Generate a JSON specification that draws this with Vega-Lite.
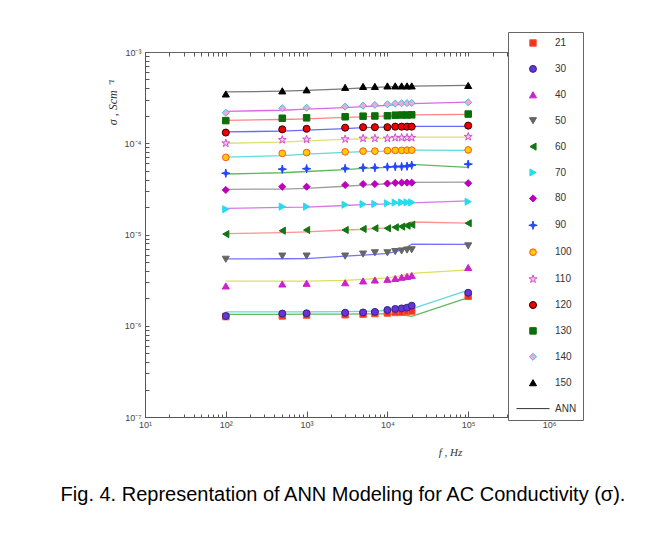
{
  "$schema": "https://vega.github.io/schema/vega-lite/v6.json",
  "autosize": {"type": "none"},
  "padding": {"left": 145, "top": 52, "right": 119, "bottom": 116},
  "width": 404,
  "height": 365,
  "background": "white",
  "config": {
    "view": {"stroke": "#666", "strokeWidth": 1},
    "axis": {"domainColor": "#555", "tickColor": "#555", "labelColor": "#444", "labelFontSize": 9, "labelFont": "Liberation Sans", "grid": false, "labelOverlap": false, "labelFlush": false},
    "legend": {"orient": "none", "legendX": 363, "legendY": -20, "padding": 6, "rowPadding": 13.9, "labelFontSize": 10, "labelFont": "Liberation Sans", "labelColor": "#333", "strokeColor": "#666", "fillColor": "white", "labelOffset": 16, "symbolOffset": 13, "symbolStrokeWidth": 1}
  },
  "title": {"text": "Fig. 4. Representation of ANN Modeling for AC Conductivity (σ).", "orient": "bottom", "anchor": "middle", "frame": "group", "fontSize": 20, "font": "Liberation Sans", "fontWeight": "normal", "color": "#000", "offset": 28, "dx": -4},
  "data": {"values": [
    {"T":"21","f":100,"sigma":1.26e-6,"ann":1.33e-6},{"T":"21","f":500,"sigma":1.28e-6,"ann":1.33e-6},{"T":"21","f":1000,"sigma":1.31e-6,"ann":1.34e-6},{"T":"21","f":3000,"sigma":1.32e-6,"ann":1.34e-6},{"T":"21","f":5000,"sigma":1.34e-6,"ann":1.35e-6},{"T":"21","f":7000,"sigma":1.36e-6,"ann":1.35e-6},{"T":"21","f":10000,"sigma":1.38e-6,"ann":1.35e-6},{"T":"21","f":12500,"sigma":1.4e-6,"ann":1.33e-6},{"T":"21","f":15000,"sigma":1.41e-6,"ann":1.31e-6},{"T":"21","f":17500,"sigma":1.43e-6,"ann":1.29e-6},{"T":"21","f":20000,"sigma":1.45e-6,"ann":1.27e-6},{"T":"21","f":100000,"sigma":2.1e-6,"ann":2.03e-6},
    {"T":"30","f":100,"sigma":1.28e-6,"ann":1.42e-6},{"T":"30","f":500,"sigma":1.36e-6,"ann":1.42e-6},{"T":"30","f":1000,"sigma":1.37e-6,"ann":1.42e-6},{"T":"30","f":3000,"sigma":1.39e-6,"ann":1.43e-6},{"T":"30","f":5000,"sigma":1.4e-6,"ann":1.44e-6},{"T":"30","f":7000,"sigma":1.42e-6,"ann":1.45e-6},{"T":"30","f":10000,"sigma":1.49e-6,"ann":1.47e-6},{"T":"30","f":12500,"sigma":1.53e-6,"ann":1.48e-6},{"T":"30","f":15000,"sigma":1.55e-6,"ann":1.5e-6},{"T":"30","f":17500,"sigma":1.58e-6,"ann":1.51e-6},{"T":"30","f":20000,"sigma":1.66e-6,"ann":1.53e-6},{"T":"30","f":100000,"sigma":2.3e-6,"ann":2.45e-6},
    {"T":"40","f":100,"sigma":2.73e-6,"ann":3.08e-6},{"T":"40","f":500,"sigma":2.87e-6,"ann":3.08e-6},{"T":"40","f":1000,"sigma":2.92e-6,"ann":3.09e-6},{"T":"40","f":3000,"sigma":2.96e-6,"ann":3.15e-6},{"T":"40","f":5000,"sigma":3.1e-6,"ann":3.22e-6},{"T":"40","f":7000,"sigma":3.17e-6,"ann":3.28e-6},{"T":"40","f":10000,"sigma":3.23e-6,"ann":3.35e-6},{"T":"40","f":12500,"sigma":3.3e-6,"ann":3.45e-6},{"T":"40","f":15000,"sigma":3.4e-6,"ann":3.55e-6},{"T":"40","f":17500,"sigma":3.48e-6,"ann":3.65e-6},{"T":"40","f":20000,"sigma":3.55e-6,"ann":3.75e-6},{"T":"40","f":100000,"sigma":4.35e-6,"ann":4.1e-6},
    {"T":"50","f":100,"sigma":5.35e-6,"ann":5.4e-6},{"T":"50","f":500,"sigma":5.8e-6,"ann":5.42e-6},{"T":"50","f":1000,"sigma":5.8e-6,"ann":5.45e-6},{"T":"50","f":3000,"sigma":5.8e-6,"ann":5.8e-6},{"T":"50","f":5000,"sigma":6.1e-6,"ann":5.95e-6},{"T":"50","f":7000,"sigma":6.3e-6,"ann":6.05e-6},{"T":"50","f":10000,"sigma":6.3e-6,"ann":6.2e-6},{"T":"50","f":12500,"sigma":6.5e-6,"ann":6.5e-6},{"T":"50","f":15000,"sigma":6.6e-6,"ann":6.8e-6},{"T":"50","f":17500,"sigma":6.75e-6,"ann":7.3e-6},{"T":"50","f":20000,"sigma":6.8e-6,"ann":7.85e-6},{"T":"50","f":100000,"sigma":7.5e-6,"ann":7.8e-6},
    {"T":"60","f":100,"sigma":1.01e-5,"ann":1.02e-5},{"T":"60","f":500,"sigma":1.1e-5,"ann":1.05e-5},{"T":"60","f":1000,"sigma":1.12e-5,"ann":1.07e-5},{"T":"60","f":3000,"sigma":1.12e-5,"ann":1.12e-5},{"T":"60","f":5000,"sigma":1.15e-5,"ann":1.14e-5},{"T":"60","f":7000,"sigma":1.17e-5,"ann":1.16e-5},{"T":"60","f":10000,"sigma":1.17e-5,"ann":1.18e-5},{"T":"60","f":12500,"sigma":1.2e-5,"ann":1.22e-5},{"T":"60","f":15000,"sigma":1.22e-5,"ann":1.26e-5},{"T":"60","f":17500,"sigma":1.25e-5,"ann":1.32e-5},{"T":"60","f":20000,"sigma":1.28e-5,"ann":1.37e-5},{"T":"60","f":100000,"sigma":1.33e-5,"ann":1.33e-5},
    {"T":"70","f":100,"sigma":1.89e-5,"ann":1.93e-5},{"T":"70","f":500,"sigma":2.02e-5,"ann":1.98e-5},{"T":"70","f":1000,"sigma":2.02e-5,"ann":2.0e-5},{"T":"70","f":3000,"sigma":2.12e-5,"ann":2.08e-5},{"T":"70","f":5000,"sigma":2.15e-5,"ann":2.12e-5},{"T":"70","f":7000,"sigma":2.16e-5,"ann":2.14e-5},{"T":"70","f":10000,"sigma":2.2e-5,"ann":2.17e-5},{"T":"70","f":12500,"sigma":2.24e-5,"ann":2.19e-5},{"T":"70","f":15000,"sigma":2.25e-5,"ann":2.2e-5},{"T":"70","f":17500,"sigma":2.25e-5,"ann":2.21e-5},{"T":"70","f":20000,"sigma":2.25e-5,"ann":2.22e-5},{"T":"70","f":100000,"sigma":2.29e-5,"ann":2.34e-5},
    {"T":"80","f":100,"sigma":3.08e-5,"ann":3.12e-5},{"T":"80","f":500,"sigma":3.34e-5,"ann":3.15e-5},{"T":"80","f":1000,"sigma":3.34e-5,"ann":3.2e-5},{"T":"80","f":3000,"sigma":3.49e-5,"ann":3.38e-5},{"T":"80","f":5000,"sigma":3.57e-5,"ann":3.48e-5},{"T":"80","f":7000,"sigma":3.57e-5,"ann":3.53e-5},{"T":"80","f":10000,"sigma":3.62e-5,"ann":3.6e-5},{"T":"80","f":12500,"sigma":3.68e-5,"ann":3.65e-5},{"T":"80","f":15000,"sigma":3.7e-5,"ann":3.68e-5},{"T":"80","f":17500,"sigma":3.7e-5,"ann":3.7e-5},{"T":"80","f":20000,"sigma":3.7e-5,"ann":3.72e-5},{"T":"80","f":100000,"sigma":3.65e-5,"ann":3.75e-5},
    {"T":"90","f":100,"sigma":4.69e-5,"ann":4.6e-5},{"T":"90","f":500,"sigma":5.2e-5,"ann":4.75e-5},{"T":"90","f":1000,"sigma":5.26e-5,"ann":4.9e-5},{"T":"90","f":3000,"sigma":5.3e-5,"ann":5.15e-5},{"T":"90","f":5000,"sigma":5.4e-5,"ann":5.3e-5},{"T":"90","f":7000,"sigma":5.4e-5,"ann":5.38e-5},{"T":"90","f":10000,"sigma":5.5e-5,"ann":5.45e-5},{"T":"90","f":12500,"sigma":5.55e-5,"ann":5.55e-5},{"T":"90","f":15000,"sigma":5.55e-5,"ann":5.65e-5},{"T":"90","f":17500,"sigma":5.6e-5,"ann":5.75e-5},{"T":"90","f":20000,"sigma":5.75e-5,"ann":5.88e-5},{"T":"90","f":100000,"sigma":5.9e-5,"ann":5.45e-5},
    {"T":"100","f":100,"sigma":7.0e-5,"ann":7.05e-5},{"T":"100","f":500,"sigma":7.75e-5,"ann":7.3e-5},{"T":"100","f":1000,"sigma":7.9e-5,"ann":7.6e-5},{"T":"100","f":3000,"sigma":8.05e-5,"ann":7.95e-5},{"T":"100","f":5000,"sigma":8.2e-5,"ann":8.1e-5},{"T":"100","f":7000,"sigma":8.2e-5,"ann":8.15e-5},{"T":"100","f":10000,"sigma":8.3e-5,"ann":8.2e-5},{"T":"100","f":12500,"sigma":8.35e-5,"ann":8.3e-5},{"T":"100","f":15000,"sigma":8.35e-5,"ann":8.35e-5},{"T":"100","f":17500,"sigma":8.4e-5,"ann":8.4e-5},{"T":"100","f":20000,"sigma":8.4e-5,"ann":8.42e-5},{"T":"100","f":100000,"sigma":8.45e-5,"ann":8.35e-5},
    {"T":"110","f":100,"sigma":1.0e-4,"ann":1.0e-4},{"T":"110","f":500,"sigma":1.09e-4,"ann":1.03e-4},{"T":"110","f":1000,"sigma":1.1e-4,"ann":1.06e-4},{"T":"110","f":3000,"sigma":1.11e-4,"ann":1.1e-4},{"T":"110","f":5000,"sigma":1.13e-4,"ann":1.12e-4},{"T":"110","f":7000,"sigma":1.13e-4,"ann":1.13e-4},{"T":"110","f":10000,"sigma":1.13e-4,"ann":1.14e-4},{"T":"110","f":12500,"sigma":1.15e-4,"ann":1.15e-4},{"T":"110","f":15000,"sigma":1.15e-4,"ann":1.16e-4},{"T":"110","f":17500,"sigma":1.15e-4,"ann":1.16e-4},{"T":"110","f":20000,"sigma":1.15e-4,"ann":1.17e-4},{"T":"110","f":100000,"sigma":1.18e-4,"ann":1.17e-4},
    {"T":"120","f":100,"sigma":1.31e-4,"ann":1.33e-4},{"T":"120","f":500,"sigma":1.42e-4,"ann":1.36e-4},{"T":"120","f":1000,"sigma":1.44e-4,"ann":1.39e-4},{"T":"120","f":3000,"sigma":1.48e-4,"ann":1.45e-4},{"T":"120","f":5000,"sigma":1.5e-4,"ann":1.48e-4},{"T":"120","f":7000,"sigma":1.5e-4,"ann":1.49e-4},{"T":"120","f":10000,"sigma":1.5e-4,"ann":1.5e-4},{"T":"120","f":12500,"sigma":1.52e-4,"ann":1.51e-4},{"T":"120","f":15000,"sigma":1.52e-4,"ann":1.52e-4},{"T":"120","f":17500,"sigma":1.52e-4,"ann":1.52e-4},{"T":"120","f":20000,"sigma":1.52e-4,"ann":1.53e-4},{"T":"120","f":100000,"sigma":1.56e-4,"ann":1.53e-4},
    {"T":"130","f":100,"sigma":1.77e-4,"ann":1.78e-4},{"T":"130","f":500,"sigma":1.88e-4,"ann":1.82e-4},{"T":"130","f":1000,"sigma":1.9e-4,"ann":1.85e-4},{"T":"130","f":3000,"sigma":1.95e-4,"ann":1.92e-4},{"T":"130","f":5000,"sigma":1.98e-4,"ann":1.95e-4},{"T":"130","f":7000,"sigma":1.99e-4,"ann":1.97e-4},{"T":"130","f":10000,"sigma":2.0e-4,"ann":1.99e-4},{"T":"130","f":12500,"sigma":2.03e-4,"ann":2.01e-4},{"T":"130","f":15000,"sigma":2.04e-4,"ann":2.03e-4},{"T":"130","f":17500,"sigma":2.04e-4,"ann":2.04e-4},{"T":"130","f":20000,"sigma":2.05e-4,"ann":2.05e-4},{"T":"130","f":100000,"sigma":2.09e-4,"ann":2.07e-4},
    {"T":"140","f":100,"sigma":2.16e-4,"ann":2.24e-4},{"T":"140","f":500,"sigma":2.42e-4,"ann":2.3e-4},{"T":"140","f":1000,"sigma":2.45e-4,"ann":2.36e-4},{"T":"140","f":3000,"sigma":2.52e-4,"ann":2.46e-4},{"T":"140","f":5000,"sigma":2.58e-4,"ann":2.52e-4},{"T":"140","f":7000,"sigma":2.63e-4,"ann":2.56e-4},{"T":"140","f":10000,"sigma":2.67e-4,"ann":2.6e-4},{"T":"140","f":12500,"sigma":2.72e-4,"ann":2.64e-4},{"T":"140","f":15000,"sigma":2.74e-4,"ann":2.67e-4},{"T":"140","f":17500,"sigma":2.75e-4,"ann":2.7e-4},{"T":"140","f":20000,"sigma":2.76e-4,"ann":2.72e-4},{"T":"140","f":100000,"sigma":2.81e-4,"ann":2.82e-4},
    {"T":"150","f":100,"sigma":3.47e-4,"ann":3.65e-4},{"T":"150","f":500,"sigma":3.75e-4,"ann":3.72e-4},{"T":"150","f":1000,"sigma":3.85e-4,"ann":3.8e-4},{"T":"150","f":3000,"sigma":4.1e-4,"ann":3.95e-4},{"T":"150","f":5000,"sigma":4.2e-4,"ann":4.05e-4},{"T":"150","f":7000,"sigma":4.2e-4,"ann":4.1e-4},{"T":"150","f":10000,"sigma":4.25e-4,"ann":4.15e-4},{"T":"150","f":12500,"sigma":4.25e-4,"ann":4.18e-4},{"T":"150","f":15000,"sigma":4.25e-4,"ann":4.2e-4},{"T":"150","f":17500,"sigma":4.25e-4,"ann":4.22e-4},{"T":"150","f":20000,"sigma":4.25e-4,"ann":4.22e-4},{"T":"150","f":100000,"sigma":4.3e-4,"ann":4.3e-4}
  ]},
  "resolve": {"axis": {"x": "independent"}},
  "layer": [
    {
      "mark": {"type": "line", "strokeWidth": 1.3, "opacity": 0.85},
      "encoding": {
        "x": {"field": "f", "type": "quantitative",
          "scale": {"type": "log", "domain": [10, 1000000], "nice": false},
          "axis": {"orient": "top", "labels": false, "title": null, "domain": false, "tickSize": -4,
            "values": [10,20,30,40,50,60,70,80,90,100,200,300,400,500,600,700,800,900,1000,2000,3000,4000,5000,6000,7000,8000,9000,10000,20000,30000,40000,50000,60000,70000,80000,90000,100000,200000,300000,400000,500000,600000,700000,800000,900000,1000000]}},
        "y": {"field": "ann", "type": "quantitative", "scale": {"type": "log", "domain": [1e-7, 1e-3], "nice": false},
          "axis": {"title": "σ , Scm    ⁻¹", "titleFont": "Liberation Serif", "titleFontStyle": "italic", "titleFontWeight": "normal", "titleFontSize": 12, "titleColor": "#333", "titleX": -33, "titleY": 50, "titleAlign": "center", "titleBaseline": "middle", "tickSize": -4, "labelPadding": 8,
            "values": [1e-7,2e-7,3e-7,4e-7,5e-7,6e-7,7e-7,8e-7,9e-7,1e-6,2e-6,3e-6,4e-6,5e-6,6e-6,7e-6,8e-6,9e-6,1e-5,2e-5,3e-5,4e-5,5e-5,6e-5,7e-5,8e-5,9e-5,1e-4,2e-4,3e-4,4e-4,5e-4,6e-4,7e-4,8e-4,9e-4,1e-3],
            "labelExpr": "abs(log(datum.value)/LN10 - round(log(datum.value)/LN10)) < 0.001 ? '10⁻' + substring('⁰¹²³⁴⁵⁶⁷⁸⁹', -round(log(datum.value)/LN10), -round(log(datum.value)/LN10) + 1) : ''"}},
        "color": {"field": "T", "type": "nominal",
          "scale": {"domain": ["21","30","40","50","60","70","80","90","100","110","120","130","140","150"],
            "range": ["#44aa44","#44d4d4","#d8d840","#5a5aff","#ff7f7f","#d060e0","#8c8c8c","#44aa44","#44d4d4","#d8d860","#5050ff","#ff7070","#d050e0","#606060"]},
          "legend": null}
      }
    },
    {
      "mark": {"type": "point", "filled": true, "opacity": 1, "strokeWidth": 1},
      "encoding": {
        "x": {"field": "f", "type": "quantitative",
          "scale": {"type": "log", "domain": [10, 1000000], "nice": false},
          "axis": {"orient": "bottom", "title": "f , Hz", "titleFont": "Liberation Serif", "titleFontStyle": "italic", "titleFontWeight": "normal", "titleFontSize": 11, "titleColor": "#333", "titleX": 305, "titleY": 35, "titleAlign": "center", "titleBaseline": "middle",
            "values": [10,20,30,40,50,60,70,80,90,100,200,300,400,500,600,700,800,900,1000,2000,3000,4000,5000,6000,7000,8000,9000,10000,20000,30000,40000,50000,60000,70000,80000,90000,100000,200000,300000,400000,500000,600000,700000,800000,900000,1000000],
            "labelExpr": "abs(log(datum.value)/LN10 - round(log(datum.value)/LN10)) < 0.001 ? '10' + substring('⁰¹²³⁴⁵⁶⁷⁸⁹', round(log(datum.value)/LN10), round(log(datum.value)/LN10) + 1) : ''",
            "labelPadding": 9,
            "tickSize": {"condition": {"test": "abs(log(datum.value)/LN10 - round(log(datum.value)/LN10)) < 0.001", "value": -6}, "value": -3}}},
        "y": {"field": "sigma", "type": "quantitative",
          "scale": {"type": "log", "domain": [1e-7, 1e-3], "nice": false},
          "axis": {"title": "σ , Scm    ⁻¹", "titleFont": "Liberation Serif", "titleFontStyle": "italic", "titleFontWeight": "normal", "titleFontSize": 12, "titleColor": "#333", "titleX": -33, "titleY": 50, "titleAlign": "center", "titleBaseline": "middle", "tickSize": -4, "labelPadding": 8,
            "values": [1e-7,2e-7,3e-7,4e-7,5e-7,6e-7,7e-7,8e-7,9e-7,1e-6,2e-6,3e-6,4e-6,5e-6,6e-6,7e-6,8e-6,9e-6,1e-5,2e-5,3e-5,4e-5,5e-5,6e-5,7e-5,8e-5,9e-5,1e-4,2e-4,3e-4,4e-4,5e-4,6e-4,7e-4,8e-4,9e-4,1e-3],
            "labelExpr": "abs(log(datum.value)/LN10 - round(log(datum.value)/LN10)) < 0.001 ? '10⁻' + substring('⁰¹²³⁴⁵⁶⁷⁸⁹', -round(log(datum.value)/LN10), -round(log(datum.value)/LN10) + 1) : ''"}},
        "fill": {"field": "T", "type": "nominal", "title": null,
          "scale": {"domain": ["21","30","40","50","60","70","80","90","100","110","120","130","140","150","ANN"],
            "range": ["#ee3322","#6633dd","#cc22cc","#666666","#117711","#22ddee","#bb00bb","#2244ff","#ffcc00","#f6c6f6","#ee0000","#0a6e0a","#f0a8d8","#000000","rgba(0,0,0,0)"]},
          "legend": {"labelExpr": "datum.label + '\u00a0\u00a0\u00a0\u00a0\u00a0\u00a0\u00a0\u00a0\u00a0\u00a0\u00a0\u00a0\u00a0\u00a0\u00a0\u00a0\u00a0\u00a0\u00a0'"}},
        "stroke": {"field": "T", "type": "nominal", "title": null,
          "scale": {"domain": ["21","30","40","50","60","70","80","90","100","110","120","130","140","150","ANN"],
            "range": ["#ff5533","#332288","#cc22cc","#666666","#117711","#22ddee","#bb00bb","#2244ff","#ff5522","#d050d0","#330000","#0a6e0a","#44bbdd","#000000","#333333"]},
          "legend": {"labelExpr": "datum.label + '\u00a0\u00a0\u00a0\u00a0\u00a0\u00a0\u00a0\u00a0\u00a0\u00a0\u00a0\u00a0\u00a0\u00a0\u00a0\u00a0\u00a0\u00a0\u00a0'"}},
        "shape": {"field": "T", "type": "nominal", "title": null,
          "scale": {"domain": ["21","30","40","50","60","70","80","90","100","110","120","130","140","150","ANN"],
            "range": ["square","circle","triangle-up","triangle-down","triangle-left","triangle-right","diamond","M0,-1L0.22,-0.22L1,0L0.22,0.22L0,1L-0.22,0.22L-1,0L-0.22,-0.22Z","circle","M0,-1L0.225,-0.31L0.95,-0.31L0.36,0.12L0.59,0.81L0,0.38L-0.59,0.81L-0.36,0.12L-0.95,-0.31L-0.225,-0.31Z","circle","square","diamond","triangle-up","M-3,0H3"]},
          "legend": {"labelExpr": "datum.label + '\u00a0\u00a0\u00a0\u00a0\u00a0\u00a0\u00a0\u00a0\u00a0\u00a0\u00a0\u00a0\u00a0\u00a0\u00a0\u00a0\u00a0\u00a0\u00a0'"}},
        "size": {"field": "T", "type": "nominal", "title": null,
          "scale": {"type": "ordinal", "domain": ["21","30","40","50","60","70","80","90","100","110","120","130","140","150","ANN"],
            "range": [42,48,50,50,50,50,50,70,45,70,50,42,50,50,121]},
          "legend": {"labelExpr": "datum.label + '\u00a0\u00a0\u00a0\u00a0\u00a0\u00a0\u00a0\u00a0\u00a0\u00a0\u00a0\u00a0\u00a0\u00a0\u00a0\u00a0\u00a0\u00a0\u00a0'"}}
      }
    }
  ]
}
